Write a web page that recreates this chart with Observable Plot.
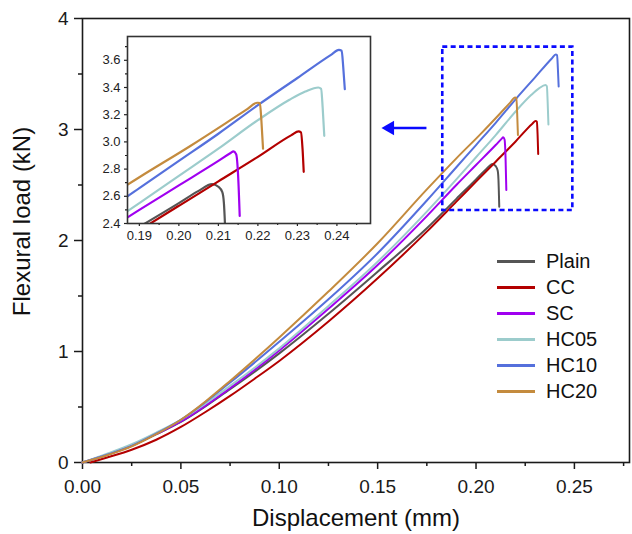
<!DOCTYPE html>
<html><head><meta charset="utf-8">
<script src="https://cdn.jsdelivr.net/npm/d3@7"></script>
<script src="https://cdn.jsdelivr.net/npm/@observablehq/plot@0.6"></script>
<style>
body{margin:0;background:#fff;}
#wrap{position:relative;width:632px;height:534px;font-family:"Liberation Sans",Arial,sans-serif;background:#fff;}
#wrap svg{position:absolute;}
.legend{position:absolute;left:497px;top:249px;}
.row{display:flex;align-items:center;height:25.9px;font-size:20px;color:#111;}
.sw{width:38px;height:3px;margin-right:11px;}
</style></head><body><div id="wrap"></div><script>
const series = ["Plain", "CC", "SC", "HC05", "HC10", "HC20"];
const colors = ["#555555", "#b30000", "#a000f0", "#9ccccc", "#5570dc", "#c48b3e"];

const plainX = [0, 0.0125, 0.025, 0.0375, 0.05, 0.075, 0.10, 0.125, 0.15, 0.175, 0.19, 0.20, 0.205, 0.2084, 0.2100, 0.2110, 0.2114, 0.2118];
const plainY = [0, 0.07, 0.15, 0.255, 0.365, 0.66, 0.983, 1.34, 1.719, 2.11, 2.375, 2.55, 2.64, 2.69, 2.67, 2.63, 2.55, 2.305];

const ccX = [0.004, 0.0125, 0.025, 0.0375, 0.05, 0.0625, 0.075, 0.0875, 0.10, 0.125, 0.15, 0.175, 0.19, 0.20, 0.21, 0.22, 0.2285, 0.2303, 0.2309, 0.2313, 0.2316];
const ccY = [0, 0.045, 0.115, 0.205, 0.32, 0.455, 0.60, 0.755, 0.915, 1.27, 1.659, 2.08, 2.35, 2.53, 2.71, 2.89, 3.05, 3.077, 3.07, 2.95, 2.78];

const scX = [0, 0.0125, 0.025, 0.0375, 0.05, 0.075, 0.10, 0.125, 0.15, 0.175, 0.19, 0.20, 0.21, 0.2132, 0.2138, 0.2145, 0.2150, 0.2154];
const scY = [0, 0.07, 0.155, 0.255, 0.37, 0.67, 1.01, 1.385, 1.779, 2.22, 2.50, 2.68, 2.86, 2.92, 2.93, 2.91, 2.75, 2.455];

const hc05X = [0, 0.0125, 0.025, 0.0375, 0.05, 0.075, 0.10, 0.125, 0.15, 0.175, 0.19, 0.20, 0.21, 0.22, 0.228, 0.232, 0.2353, 0.2360, 0.2364, 0.2368];
const hc05Y = [0, 0.08, 0.165, 0.27, 0.385, 0.69, 1.028, 1.41, 1.809, 2.26, 2.55, 2.75, 2.95, 3.16, 3.31, 3.37, 3.40, 3.39, 3.25, 3.045];

const hc10X = [0, 0.0125, 0.025, 0.0375, 0.05, 0.075, 0.10, 0.125, 0.15, 0.175, 0.19, 0.20, 0.21, 0.22, 0.23, 0.2385, 0.2405, 0.2412, 0.2416, 0.2420];
const hc10Y = [0, 0.07, 0.15, 0.26, 0.385, 0.72, 1.087, 1.47, 1.885, 2.36, 2.66, 2.86, 3.06, 3.27, 3.47, 3.64, 3.676, 3.67, 3.55, 3.387];

const hc20X = [0, 0.0125, 0.025, 0.0375, 0.05, 0.0625, 0.075, 0.10, 0.125, 0.15, 0.175, 0.19, 0.2029, 0.212, 0.217, 0.2199, 0.2205, 0.2209, 0.2213];
const hc20Y = [0, 0.065, 0.145, 0.255, 0.385, 0.55, 0.735, 1.127, 1.54, 1.975, 2.46, 2.74, 2.97, 3.14, 3.235, 3.288, 3.285, 3.15, 2.95];

const xMajor = [0, 0.05, 0.10, 0.15, 0.20, 0.25];
const xMinor = [0.025, 0.075, 0.125, 0.175, 0.225, 0.275];
const yMajor = [0, 1, 2, 3, 4];
const yMinor = [0.5, 1.5, 2.5, 3.5];

const insetXMajor = [0.19, 0.20, 0.21, 0.22, 0.23, 0.24];
const insetXMinor = [0.195, 0.205, 0.215, 0.225, 0.235, 0.245];
const insetYMajor = [2.4, 2.6, 2.8, 3.0, 3.2, 3.4, 3.6];
const insetYMinor = [2.5, 2.7, 2.9, 3.1, 3.3, 3.5, 3.7];

const zoomBox = {x1: 0.1831, x2: 0.2492, y1: 2.27, y2: 3.742};
const arrowSpec = {tail: 0.1748, base: 0.1575, tip: 0.1562, y: 3.014};

const xs = [plainX, ccX, scX, hc05X, hc10X, hc20X];
const ys = [plainY, ccY, scY, hc05Y, hc10Y, hc20Y];
const rows = [];
series.forEach((s, i) => xs[i].forEach((x, j) => rows.push({series: s, x, y: ys[i][j]})));

const font = '"Liberation Sans", Arial, sans-serif';
const axisColor = "#1a1a1a";

const main = Plot.plot({
  width: 632, height: 534,
  marginLeft: 82, marginRight: 3, marginTop: 18, marginBottom: 72,
  x: {domain: [0, 0.278]},
  y: {domain: [0, 4]},
  color: {domain: series, range: colors},
  style: {fontFamily: font, color: axisColor, background: "transparent", overflow: "visible"},
  marks: [
    Plot.axisX({ticks: xMajor, tickSize: 7, tickPadding: 10, tickFormat: d3.format(".2f"), fontSize: 19, strokeWidth: 1.5, label: null}),
    Plot.axisX({ticks: xMinor, tickSize: 4, tickFormat: () => "", strokeWidth: 1.5, label: null}),
    Plot.axisY({ticks: yMajor, tickSize: 8, tickPadding: 6, tickFormat: d3.format("d"), fontSize: 19, strokeWidth: 1.5, label: null}),
    Plot.axisY({ticks: yMinor, tickSize: 4, tickFormat: () => "", strokeWidth: 1.5, label: null}),
    Plot.frame({stroke: axisColor, strokeWidth: 1.6}),
    Plot.line(rows, {x: "x", y: "y", z: "series", stroke: "series", strokeWidth: 2, curve: "monotone-x"}),
    Plot.rect([zoomBox], {x1: "x1", x2: "x2", y1: "y1", y2: "y2", fill: "none", stroke: "#0a0aff", strokeWidth: 2.6, strokeDasharray: "5,3.4"}),
    Plot.link([arrowSpec], {x1: "tail", x2: "base", y1: "y", y2: "y", stroke: "#0a0aff", strokeWidth: 2.4}),
    Plot.dot([arrowSpec], {x: "tip", y: "y", symbol: "triangle", rotate: -90, r: 5.4, fill: "#0a0aff", stroke: "none"}),
    Plot.text(["Displacement (mm)"], {frameAnchor: "bottom", dy: 63, fontSize: 24, fill: "#111"}),
    Plot.text(["Flexural load (kN)"], {frameAnchor: "left", textAnchor: "middle", dx: -60, dy: -19, rotate: -90, fontSize: 24, fill: "#111"})
  ]
});
main.style.left = "0px"; main.style.top = "0px";

const inset = Plot.plot({
  width: 290, height: 217,
  marginLeft: 45, marginRight: 2, marginTop: 2, marginBottom: 28,
  x: {domain: [0.187, 0.2485]},
  y: {domain: [2.4, 3.775]},
  color: {domain: series, range: colors},
  style: {fontFamily: font, color: "#222", background: "transparent", overflow: "visible"},
  marks: [
    Plot.frame({fill: "white"}),
    Plot.axisX({ticks: insetXMajor, tickSize: 3, tickPadding: 4, tickFormat: d3.format(".2f"), fontSize: 13, strokeWidth: 1.2, label: null}),
    Plot.axisX({ticks: insetXMinor, tickSize: 2, tickFormat: () => "", strokeWidth: 1.2, label: null}),
    Plot.axisY({ticks: insetYMajor, tickSize: 3, tickPadding: 4, tickFormat: d3.format(".1f"), fontSize: 13, strokeWidth: 1.2, label: null}),
    Plot.axisY({ticks: insetYMinor, tickSize: 2, tickFormat: () => "", strokeWidth: 1.2, label: null}),
    Plot.line(rows, {x: "x", y: "y", z: "series", stroke: "series", strokeWidth: 2.2, curve: "monotone-x", clip: true}),
    Plot.frame({stroke: "#333", strokeWidth: 1.6})
  ]
});
inset.style.left = "82px"; inset.style.top = "34px";

const wrap = document.getElementById("wrap");
wrap.appendChild(main);
wrap.appendChild(inset);

const legend = document.createElement("div");
legend.className = "legend";
series.forEach((s, i) => {
  const row = document.createElement("div");
  row.className = "row";
  const sw = document.createElement("div");
  sw.className = "sw";
  sw.style.background = colors[i];
  const t = document.createElement("span");
  t.textContent = s;
  row.appendChild(sw); row.appendChild(t);
  legend.appendChild(row);
});
wrap.appendChild(legend);
</script></body></html>
